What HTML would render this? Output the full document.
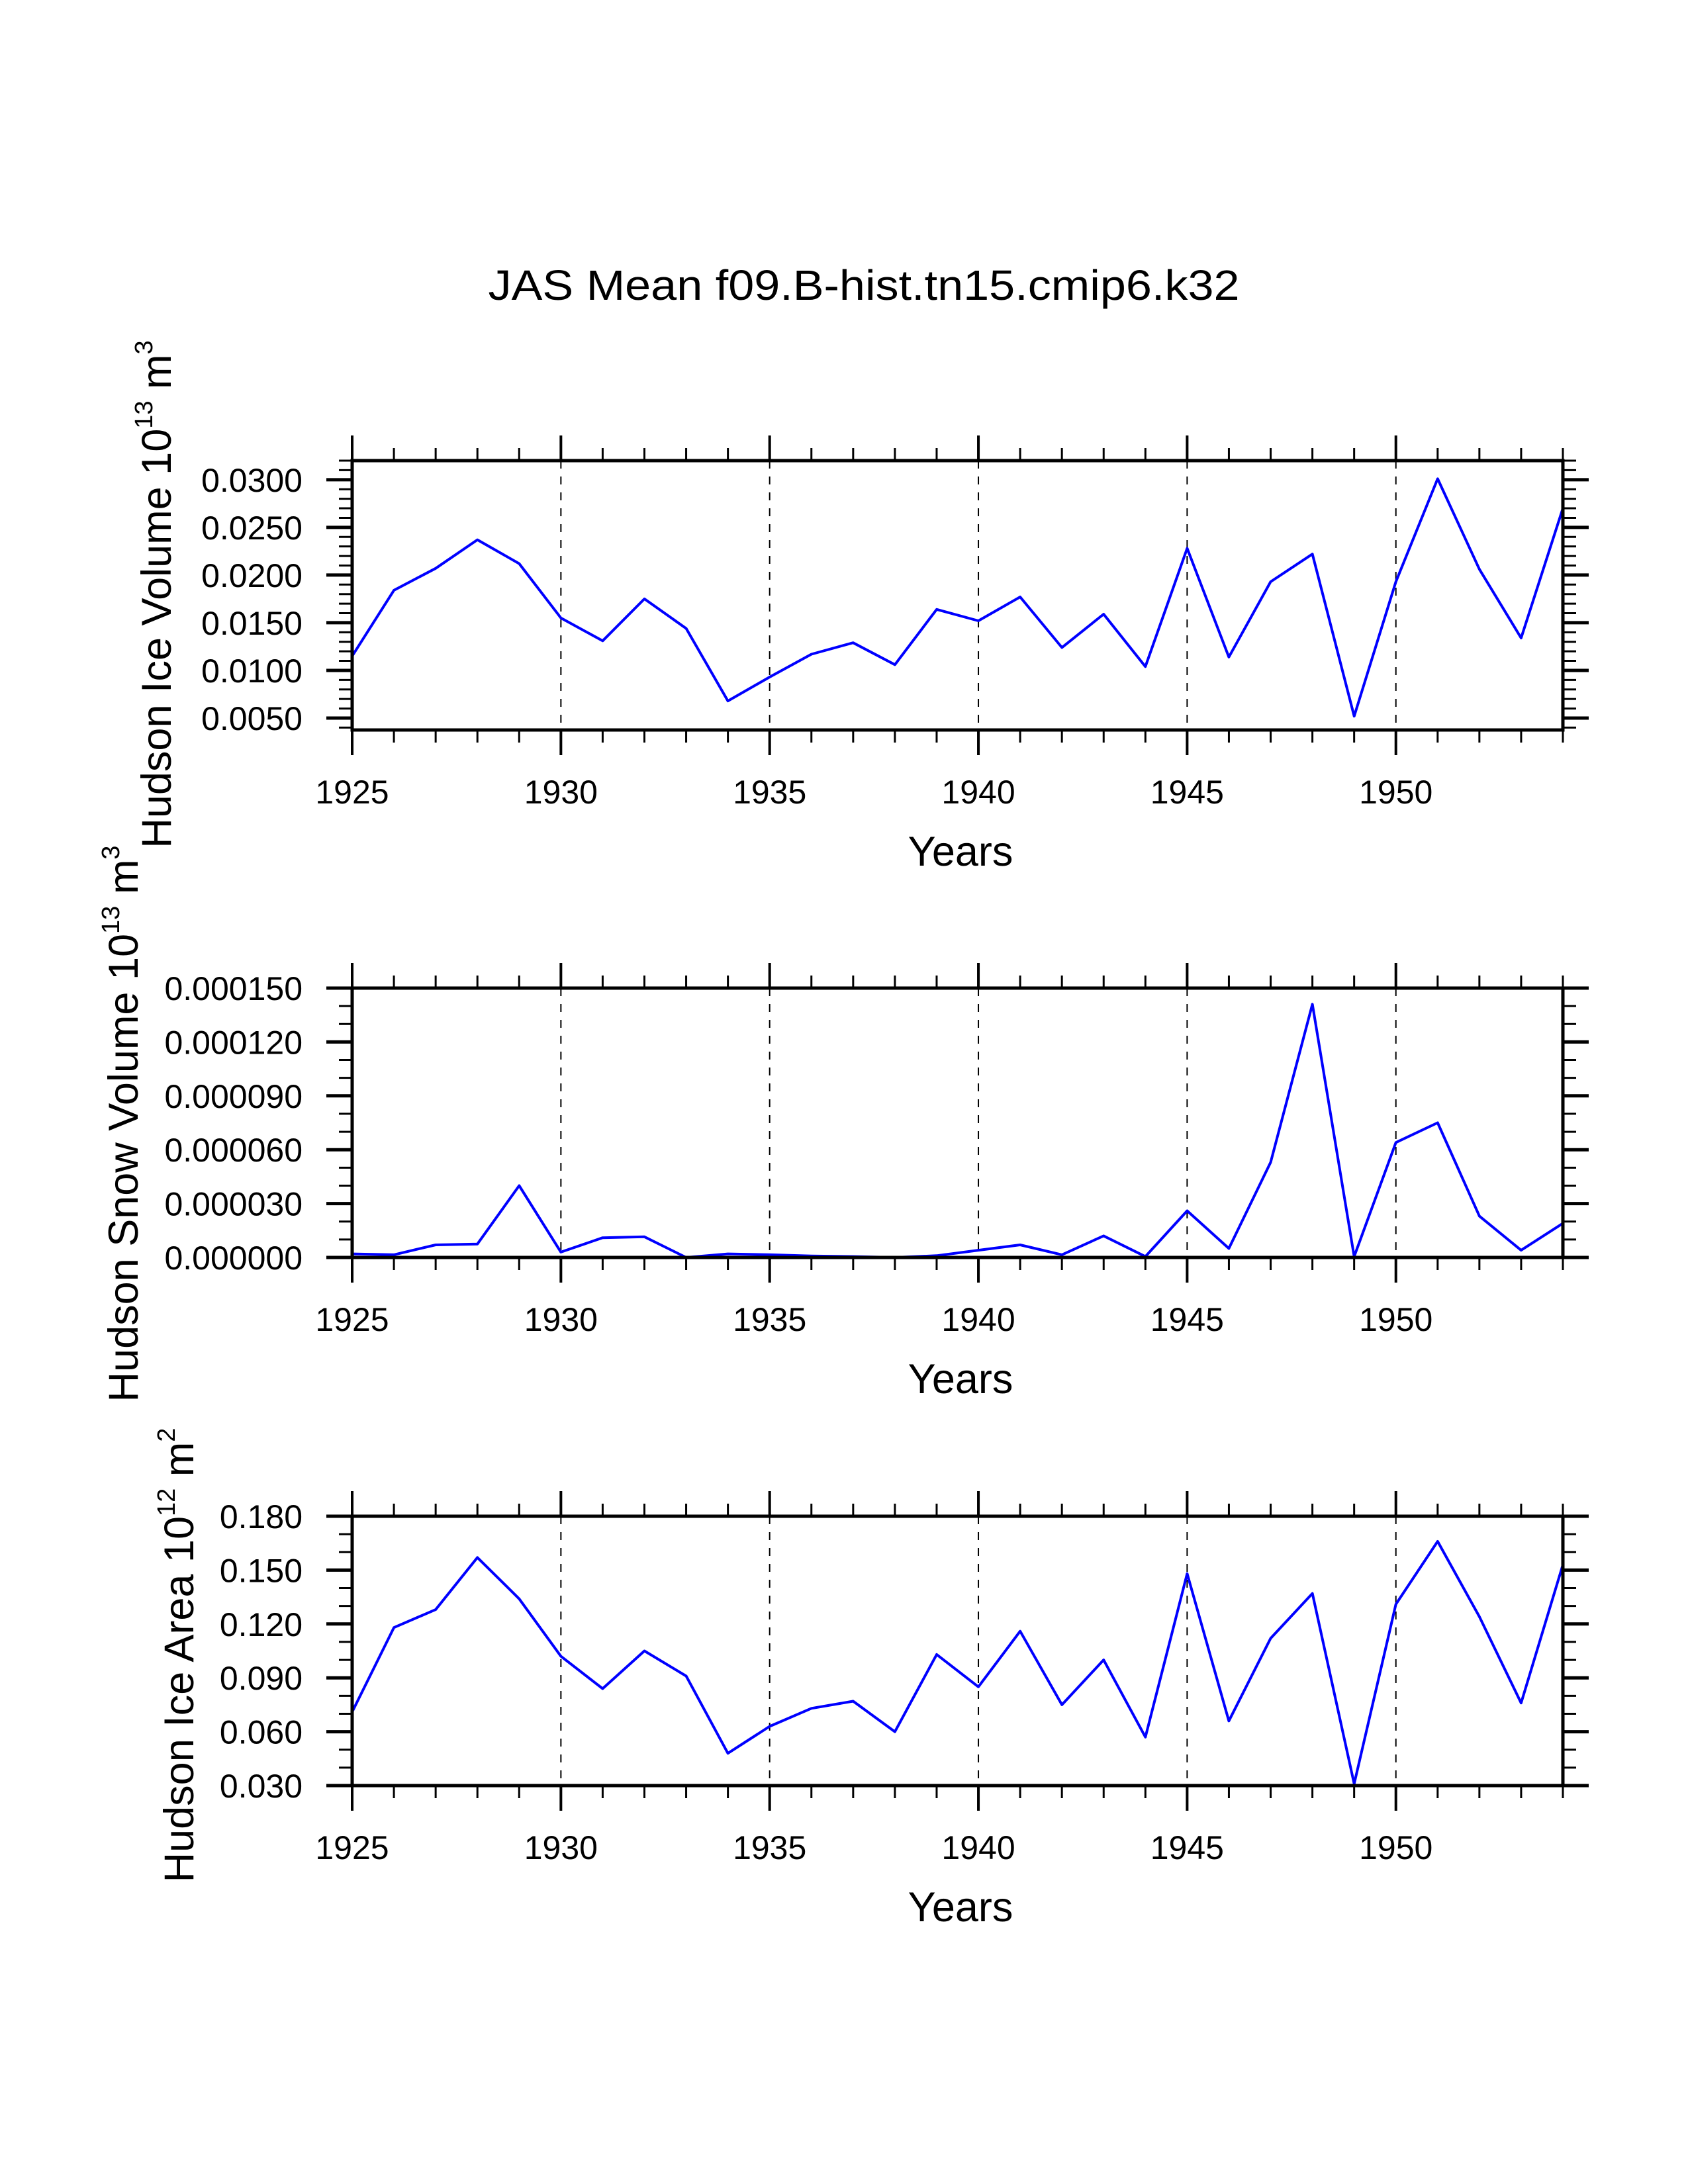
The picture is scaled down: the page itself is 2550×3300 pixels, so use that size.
<!DOCTYPE html>
<html><head><meta charset="utf-8"><style>html,body{margin:0;padding:0;background:#fff}svg{display:block}</style></head>
<body>
<svg id="chart" xmlns="http://www.w3.org/2000/svg" width="2550" height="3300" viewBox="0 0 2550 3300" font-family="Liberation Sans, Arial, sans-serif">
<rect width="2550" height="3300" fill="#fff"/>
<text x="1305" y="453" font-size="64" text-anchor="middle" textLength="1135" lengthAdjust="spacingAndGlyphs">JAS Mean f09.B-hist.tn15.cmip6.k32</text>
</svg>
<script>
const years = [1925,1926,1927,1928,1929,1930,1931,1932,1933,1934,1935,1936,1937,1938,1939,1940,1941,1942,1943,1944,1945,1946,1947,1948,1949,1950,1951,1952,1953,1954];
const iceVolume = [0.0115,0.0184,0.0207,0.0237,0.0212,0.0155,0.0131,0.0175,0.0144,0.0068,0.0093,0.0117,0.0129,0.0106,0.0164,0.0152,0.0177,0.0124,0.0159,0.0104,0.0228,0.0114,0.0193,0.0222,0.0052,0.0193,0.0301,0.0206,0.0134,0.0270];
const snowVolume = [0.000002,0.0000015,0.000007,0.0000075,0.000040,0.000003,0.000011,0.0000115,0.0,0.000002,0.0000015,0.0000008,0.0000005,0.0,0.000001,0.000004,0.000007,0.0000015,0.000012,0.0000005,0.000026,0.000005,0.000053,0.000141,0.0000005,0.000064,0.000075,0.000023,0.000004,0.000019];
const iceArea = [0.071,0.118,0.128,0.157,0.134,0.102,0.084,0.105,0.091,0.048,0.063,0.073,0.077,0.060,0.103,0.085,0.116,0.075,0.100,0.057,0.148,0.066,0.112,0.137,0.031,0.131,0.166,0.124,0.076,0.153];
const xTickLabels = ["1925","1930","1935","1940","1945","1950"];
const iceVolTicks = ["0.0050","0.0100","0.0150","0.0200","0.0250","0.0300"];
const snowTicks = ["0.000000","0.000030","0.000060","0.000090","0.000120","0.000150"];
const areaTicks = ["0.030","0.060","0.090","0.120","0.150","0.180"];

const NS='http://www.w3.org/2000/svg';
const svg=document.getElementById('chart');
const X0=532,X1=2361;
function mk(tag,attrs,parent){const e=document.createElementNS(NS,tag);for(const k in attrs)e.setAttribute(k,attrs[k]);(parent||svg).appendChild(e);return e;}
function xs(yr){return X0+(yr-1925)/(1954-1925)*(X1-X0);}

const panels=[
 {top:696,ymin:0.00375,ymax:0.0320,data:iceVolume,ticks:iceVolTicks,minor:0.001,name:'ice-volume',
  title:['Hudson Ice Volume 10','13',' m','3'],tx:236,tc:898},
 {top:1493,ymin:0,ymax:0.00015,data:snowVolume,ticks:snowTicks,minor:0.00001,name:'snow-volume',
  title:['Hudson Snow Volume 10','13',' m','3'],tx:186,tc:1698},
 {top:2291,ymin:0.030,ymax:0.180,data:iceArea,ticks:areaTicks,minor:0.01,name:'ice-area',
  title:['Hudson Ice Area 10','12',' m','2'],tx:270,tc:2501}
];
const H=407;
panels.forEach(p=>{
  const g=mk('g',{});
  
  
  const T=p.top,B=p.top+H;
  const ys=v=>B-(v-p.ymin)/(p.ymax-p.ymin)*H;
  for(let yr=1930;yr<=1950;yr+=5){
    const l=mk('line',{x1:xs(yr),x2:xs(yr),y1:T,y2:B,stroke:'#000','stroke-width':2,'stroke-dasharray':'12,12'},g);
    
    
  }
  years.forEach(yr=>{
    const major=(yr%5===0), len=major?38:19, w=major?4:3;
    mk('line',{x1:xs(yr),x2:xs(yr),y1:T,y2:T-len,stroke:'#000','stroke-width':w},g);
    mk('line',{x1:xs(yr),x2:xs(yr),y1:B,y2:B+len,stroke:'#000','stroke-width':w},g);
  });
  const nMin=Math.round((p.ymax-p.ymin)/p.minor)+2;
  const start=Math.ceil(p.ymin/p.minor-1e-6)*p.minor;
  for(let i=0;i<nMin;i++){
    const v=start+i*p.minor; if(v>p.ymax+1e-9) break;
    const y=ys(v);
    mk('line',{x1:X0,x2:X0-20,y1:y,y2:y,stroke:'#000','stroke-width':3},g);
    mk('line',{x1:X1,x2:X1+20,y1:y,y2:y,stroke:'#000','stroke-width':3},g);
  }
  p.ticks.forEach(t=>{
    const y=ys(parseFloat(t));
    mk('line',{x1:X0,x2:X0-39,y1:y,y2:y,stroke:'#000','stroke-width':5},g);
    mk('line',{x1:X1,x2:X1+39,y1:y,y2:y,stroke:'#000','stroke-width':5},g);
    const tx=mk('text',{x:457,y:y+18,'font-size':50,'text-anchor':'end'},g);
    tx.textContent=t;
    
    
  });
  xTickLabels.forEach(t=>{
    const tx=mk('text',{x:xs(+t),y:B+111,'font-size':50,'text-anchor':'middle'},g);
    tx.textContent=t;
    
    
  });
  const pts=years.map((yr,i)=>xs(yr).toFixed(1)+','+ys(p.data[i]).toFixed(1)).join(' ');
  const pl=mk('polyline',{points:pts,fill:'none',stroke:'#0000ff','stroke-width':4,'stroke-linejoin':'round'},g);
  
  
  const fr=mk('rect',{x:X0,y:T,width:X1-X0,height:H,fill:'none',stroke:'#000','stroke-width':5},g);
  
  
  const xt=mk('text',{x:1451,y:B+205,'font-size':63,'text-anchor':'middle'},g);
  xt.textContent='Years';
  
  
  const yt=mk('text',{x:0,y:0,'font-size':63,'text-anchor':'middle',transform:'translate('+(p.tx+22)+','+p.tc+') rotate(-90)'},g);
  
  
  const a=mk('tspan',{},yt);a.textContent=p.title[0];
  const b=mk('tspan',{'font-size':38,dy:-28},yt);b.textContent=p.title[1];
  const c=mk('tspan',{dy:28},yt);c.textContent=p.title[2];
  const d=mk('tspan',{'font-size':38,dy:-28},yt);d.textContent=p.title[3];
});
</script>
</body></html>
